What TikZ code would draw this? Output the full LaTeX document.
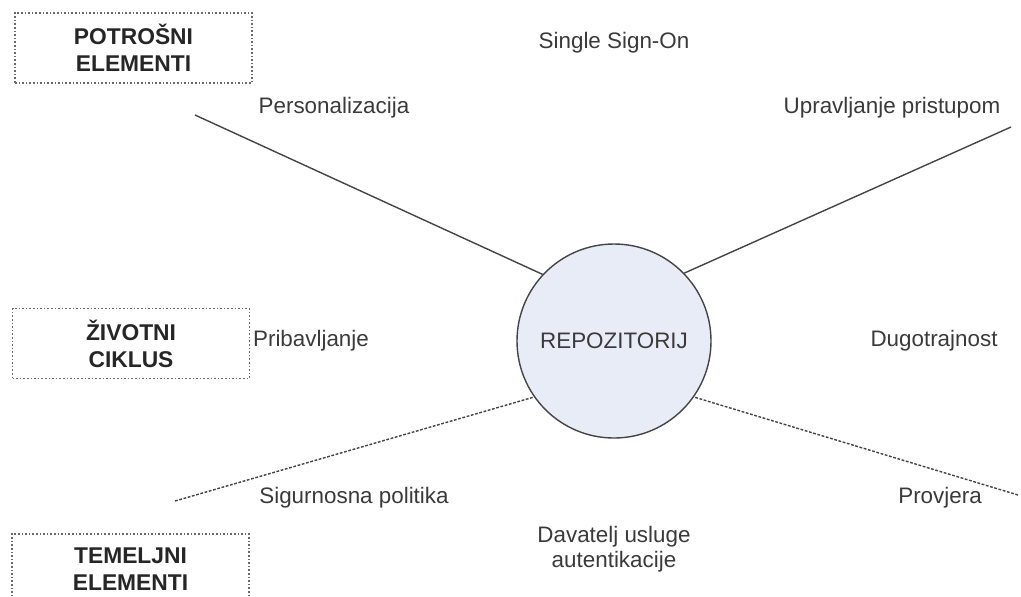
\documentclass[tikz,border=0pt]{standalone}
\usepackage{fontspec}
\setmainfont{Liberation Sans}
\usetikzlibrary{positioning}
\definecolor{ink}{HTML}{3A3A3A}
\definecolor{boxink}{HTML}{262626}
\definecolor{repofill}{HTML}{E8ECF6}
\definecolor{spokegray}{HTML}{444444}
\definecolor{boxgray}{HTML}{6A6A6A}
\tikzset{
  areabox/.style={draw=boxgray, densely dotted, line width=0.8pt, align=center,
    minimum width=118.5pt, minimum height=35pt, text=boxink,
    font=\fontsize{11.4}{13.5}\selectfont\bfseries},
  lbl/.style={text=ink, align=center, inner sep=0pt,
    font=\fontsize{11.2}{12.6}\selectfont},
  repo/.style={circle, draw=spokegray, fill=repofill, line width=0.7pt,
    minimum size=97pt, inner sep=0pt, text=ink, font=\fontsize{11.2}{12.6}\selectfont},
  spoke/.style={draw=spokegray, line width=0.7pt},
  weakspoke/.style={spoke, densely dashed, dash pattern=on 1.4pt off 0.8pt}
}

\begin{document}
\begin{tikzpicture}[x=0.5pt, y=-0.5pt]
  \useasboundingbox (0,0) rectangle (1021,596);
  \clip (0,0) rectangle (1021,596);
  % levels
  \node[areabox] (potrosni) at (133.5,48) {POTROŠNI\\ELEMENTI};
  \node[areabox] (zivotni) at (131,343.5) {ŽIVOTNI\\CIKLUS};
  \node[areabox] (temeljni) at (130.5,569) {TEMELJNI\\ELEMENTI};
  % centre
  \node[repo] (repo) at (614,341) {REPOZITORIJ};
  % labels
  \node[lbl] (sso) at (614,43) {Single Sign-On};
  \node[lbl] (person) at (334,108) {Personalizacija};
  \node[lbl] (pristup) at (892,108) {Upravljanje pristupom};
  \node[lbl] (pribav) at (311,341) {Pribavljanje};
  \node[lbl] (dugo) at (934,341) {Dugotrajnost};
  \node[lbl] (sigur) at (354,498) {Sigurnosna politika};
  \node[lbl] (provj) at (940,498) {Provjera};
  \node[lbl] (autent) at (614,549) {Davatelj usluge\\autentikacije};
  % spokes
  \coordinate (ul) at (195,115);
  \coordinate (ur) at (1011,127);
  \coordinate (ll) at (175,501);
  \coordinate (lr) at (1018,495);
  \draw[spoke] (ul) -- (repo.137.5);
  \draw[spoke] (ur) -- (repo.44.6);
  \draw[weakspoke] (ll) -- (repo.215.3);
  \draw[weakspoke] (lr) -- (repo.325.3);
\end{tikzpicture}
\end{document}
